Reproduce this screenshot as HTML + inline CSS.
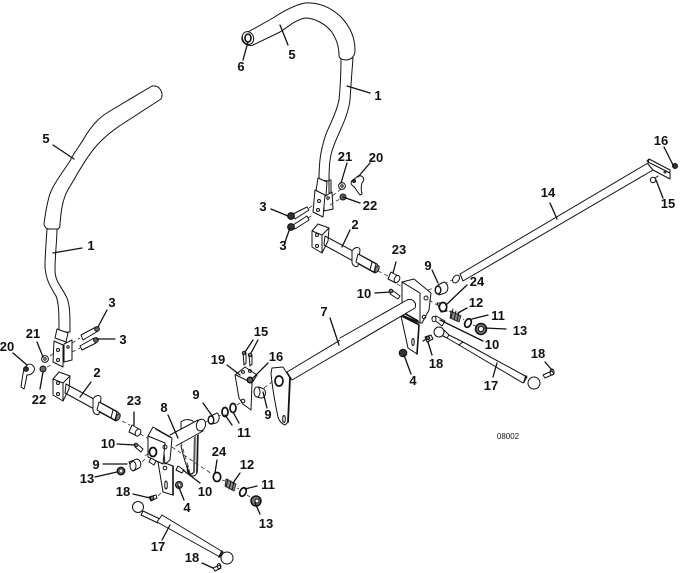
<!DOCTYPE html>
<html><head><meta charset="utf-8"><style>
html,body{margin:0;padding:0;background:#fff}
svg{display:block}
text{font-family:"Liberation Sans",Arial,sans-serif;font-size:13px;font-weight:bold;fill:#111;text-anchor:middle}
.p{fill:#fff;stroke:#111;stroke-width:1;stroke-linejoin:round;stroke-linecap:round}
.l{fill:none;stroke:#111;stroke-width:1;stroke-linecap:round;stroke-linejoin:round}
.k{fill:none;stroke:#111;stroke-width:1.3;stroke-linecap:round}
.d{fill:none;stroke:#333;stroke-width:.8;stroke-dasharray:4 3}
.t{fill:#fff;stroke:#111;stroke-width:1.7}
.n{fill:#333;stroke:#111;stroke-width:1}
.g{fill:#888;stroke:#111;stroke-width:.8}
</style></head><body>
<svg width="680" height="573" viewBox="0 0 680 573" xmlns="http://www.w3.org/2000/svg">
<rect width="680" height="573" fill="#fff"/>

<!-- Left handle -->
<path class="p" d="M47 229C46 245 45 255 45 267C46 280 50 286 56 296C59 303 59 315 59 332L70 332C70 315 70 306 67 298C62 287 55 282 55 270C55 255 57 240 57 229Z"/>
<path class="p" d="M152 86L110 111C98 118 92 126 86 135C80 146 74 152 70 161C60 176 52 186 49 197C46 208 45 216 44 224C45 229 48 229 50 229L58 229C60 228 60 226 60 224C61 212 62 204 65 196C68 188 72 184 76 176C82 166 90 152 100 142C108 134 116 128 124 123L161 99C164 93 160 85 152 86Z"/>

<!-- Right handle -->
<path class="p" d="M341 58C341 75 340 90 339 100C336 115 329 125 325 137C321 150 319 160 319 180L329 181C329 165 330 156 333 148C337 135 348 118 350 100C351 85 352 70 353 58Z"/>
<path class="p" d="M248 32L273 18C285 10 295 5 305 3C318 2 330 7 340 16C350 26 355 38 355 50C355 56 352 59 347 60C343 60 339 59 339 55C339 46 336 38 331 31C325 24 315 18 305 18C295 20 288 27 280 32L253 45C247 47 241 42 242 37C243 33 245 32 248 32Z"/>
<ellipse class="p" cx="248" cy="38" rx="5.500" ry="6.500" transform="rotate(-25 248 38)"/>
<ellipse class="n" style="fill:#fff;stroke-width:1.600" cx="248" cy="38" rx="3" ry="4"/>

<!-- Right clamp bracket -->
<path class="p" d="M318 178L327 182L326 196L316 191Z"/>
<path class="p" d="M324 197L332 192L333 209L324 211Z"/>
<path class="p" d="M315 190L325 195L323 217L313 212Z"/>
<circle class="l" cx="319" cy="201" r="1.500"/><circle class="l" cx="318" cy="210" r="1.500"/><circle class="l" cx="328" cy="198" r="1.200"/>
<path class="p" d="M329 180L331 180L331 193L329 193Z"/>
<path class="d" d="M327 200L345 186M330 205L343 197M309 208L315 204M308 218L314 214"/>
<path class="p" d="M293 214L307 207L309 210L295 219Z"/><path class="p" d="M293 225L307 216L309 220L295 229Z"/>
<circle class="n" cx="291" cy="216" r="3.400"/><circle class="n" cx="291" cy="227" r="3.400"/>
<circle class="p" cx="342" cy="186" r="3.400"/><circle class="l" cx="342" cy="186" r="1.200"/>
<circle class="n" style="fill:#666" cx="343" cy="197" r="3"/>
<path class="p" d="M353 180L358 176C362 175 366 178 362 183C361 186 361 190 362 194L360 195C356 190 355 187 353 186C350 184 351 181 353 180Z"/>
<circle class="n" cx="354" cy="181" r="1.500"/>

<!-- Right part 2 -->
<path class="p" d="M325 236L377 264C379 268 378 271 375 273L324 245Z"/>
<path class="p" d="M312 231L318 224L329 228L322 235L322 253L312 247Z"/>
<path class="l" d="M322 235L312 231M329 228L328 241L322 253"/>
<circle class="l" cx="317" cy="235" r="1.500"/><circle class="l" cx="317" cy="246" r="1.500"/>
<path class="p" d="M352 251C355 246 360 247 360 250L358 266C356 268 352 265 352 262Z"/>
<path class="p" d="M358 254L376 264L374 272L356 262Z"/>
<path class="l" d="M372 262L370 270"/>
<ellipse class="n" style="fill:#888" cx="377" cy="269" rx="1.800" ry="3.600" transform="rotate(25 377 269)"/>
<path class="d" d="M378 271L388 276M397 284L408 290"/>
<!-- Right 23 -->
<path class="p" d="M391 272L398 276L396 283L388 279Z"/><ellipse class="p" cx="397" cy="279" rx="2.600" ry="3.800" transform="rotate(25 397 279)"/>

<!-- Left part 2 -->
<g transform="translate(-259 148)">
<path class="p" d="M325 236L377 264C379 268 378 271 375 273L324 245Z"/>
<path class="p" d="M312 231L318 224L329 228L322 235L322 253L312 247Z"/>
<path class="l" d="M322 235L312 231M329 228L328 241L322 253"/>
<circle class="l" cx="317" cy="235" r="1.500"/><circle class="l" cx="317" cy="246" r="1.500"/>
<path class="p" d="M352 251C355 246 360 247 360 250L358 266C356 268 352 265 352 262Z"/>
<path class="p" d="M358 254L376 264L374 272L356 262Z"/>
<path class="l" d="M372 262L370 270"/>
<ellipse class="n" style="fill:#888" cx="377" cy="269" rx="1.800" ry="3.600" transform="rotate(25 377 269)"/>
</g>
<path class="d" d="M122 421L130 425M140 434L149 439"/>
<path class="p" d="M132 425L139 429L137 436L129 432Z"/><ellipse class="p" cx="138" cy="432.500" rx="2.600" ry="3.800" transform="rotate(25 138 432.500)"/>

<!-- Left clamp bracket -->
<path class="p" d="M57 329L68 333L66 342L55 338Z"/>
<path class="p" d="M54 341L63 345L63 367L53 362Z"/>
<path class="p" d="M64 344L72 340L72 360L64 362Z"/>
<circle class="l" cx="58" cy="350" r="1.500"/><circle class="l" cx="58" cy="360" r="1.500"/><circle class="l" cx="68" cy="347" r="1.200"/>
<path class="d" d="M50 356L54 353M47 367L53 364M72 343L80 338M72 352L80 348"/>
<path class="p" d="M81 335L96 327L98 331L83 340Z"/><path class="p" d="M80 346L94 338L96 343L82 350Z"/>
<circle class="n" style="fill:#666" cx="97" cy="329" r="2.400"/><circle class="n" style="fill:#666" cx="96" cy="340" r="2.400"/>
<circle class="p" cx="45" cy="359" r="3.400"/><circle class="l" cx="45" cy="359" r="1.200"/>
<circle class="n" style="fill:#666" cx="43" cy="369" r="3"/>
<path class="p" d="M27 365C31 362 36 367 34 371C32 375 28 375 27 375C26 380 25 386 24 389L21 387C22 380 23 372 24 369Z"/>
<circle class="n" cx="26" cy="369" r="2.400"/>

<!-- Main shaft 7 -->
<path class="p" d="M287 372L407 300C413 298 417 303 415 308L292 380Z"/>

<!-- Shaft 7 arm -->
<path class="p" d="M272 368L283 367L290 378L288 422L285 425C282 424 279 421 278 417C275 403 272 385 271 373Z"/>
<path class="l" style="stroke-width:1.800" d="M290 378L288 422"/>
<ellipse class="p" style="stroke-width:1.700" cx="279" cy="381" rx="4" ry="5"/>
<ellipse class="l" cx="284" cy="419" rx="1.300" ry="3.500"/>
<path class="p" d="M259 387L264 389C267 393 265 397 262 398C258 398 255 396 254 392Z"/>
<ellipse class="p" cx="257" cy="392" rx="3" ry="5"/>
<path class="d" d="M264 388L272 382"/>

<!-- 19 plate -->
<path class="p" d="M235 375L245 367L257 375L252 383L251 410L243 404L239 398Z"/>
<path class="l" d="M236 375L252 383"/>
<circle class="l" cx="243" cy="401" r="1.800"/>
<circle class="l" cx="243" cy="372" r="1.400"/><circle class="l" cx="250" cy="371" r="1.400"/>
<circle class="n" style="fill:#666;stroke-width:1.500" cx="250" cy="380" r="2.700"/>
<path class="p" d="M243 353L246 353L246 363L244 365Z"/><path class="p" d="M249 355L252 355L252 364L250 366Z"/>
<circle class="l" cx="244" cy="353" r="1.700"/><circle class="l" cx="250" cy="355" r="1.700"/>

<!-- Right bracket assembly -->
<path class="p" d="M401 316L408 348L417 354L419 325Z"/>
<path class="p" d="M402 282L420 293L420 323L402 315Z"/>
<path class="p" d="M402 282L414 279L431 293L429 310L422 323L420 323L420 293Z"/>
<path class="l" style="stroke-width:1.600" d="M404 316L418 324M404 313L418 321"/>
<path class="l" style="stroke-width:1.600" d="M419 325L417 354"/>
<circle class="l" cx="426" cy="298" r="2"/><circle class="l" cx="424" cy="317" r="1.700"/>
<ellipse class="l" cx="413" cy="342" rx="1.200" ry="3.500"/>
<path class="p" d="M340 338L407 300C413 298 417 303 415 308L340 352Z" style="stroke:none"/>
<path class="l" d="M340 338L407 300C413 298 417 303 415 308L340 352"/>
<circle class="n" cx="403" cy="353" r="3.800"/>
<path class="p" d="M392 290L400 296L398 299L390 294Z"/><circle class="n" style="fill:#888" cx="391" cy="291" r="1.800"/>

<!-- Shaft 14 -->
<path class="p" d="M460 274L648 163L653 170L463 281Z"/>
<ellipse class="p" cx="456" cy="279" rx="3" ry="4.300" transform="rotate(35 456 279)"/>
<path class="p" d="M649 159L670 170L670 179L653 170L648 164Z"/>
<path class="l" d="M649 159L647 161L650 163L670 173"/>
<circle class="l" cx="665" cy="172" r="1"/>
<circle class="n" cx="675" cy="166" r="2.500"/>
<circle class="p" cx="653" cy="180" r="2.700"/><path class="l" d="M655 178L658 176"/>
<path class="d" d="M444 284L452 280"/>

<!-- Right hardware -->
<path class="p" d="M438 285L444 282C449 284 449 291 445 293L439 295Z"/>
<ellipse class="p" style="stroke-width:1.400" cx="438" cy="290" rx="2.800" ry="4"/>
<path class="d" d="M428 290L434 288M429 300L437 305M449 311L452 313M463 319L464 320M473 325L476 326"/>
<path class="p" d="M437 303L444 303L447 311L441 312Z"/><ellipse class="t" cx="443" cy="307" rx="3.700" ry="4.500"/>
<path class="g" d="M451 311L461 316L459 322L450 318Z"/>
<path class="l" d="M453 309L451 318M456 311L454 320M459 312L457 321"/>
<ellipse class="t" cx="468" cy="323" rx="3" ry="4.500" transform="rotate(25 468 323)"/>
<circle class="n" style="fill:#777;stroke-width:1.500" cx="481" cy="329" r="5.500"/>
<circle cx="481" cy="329" r="2.600" fill="#fff" stroke="#111"/>
<path class="p" d="M432 318L436 316L445 321L442 326Z"/><ellipse class="p" cx="434" cy="319" rx="2" ry="2.800"/>
<path class="p" d="M449 335L463 342L459 345L447 338Z"/>
<path class="p" d="M463 342L527 377L523 383L459 345Z"/>
<circle class="p" cx="439" cy="332" r="5"/>
<path class="l" d="M444 330L449 335M443 336L447 338"/>
<circle class="p" cx="534" cy="383" r="6"/>
<path class="l" style="stroke-width:1.500" d="M526 376L524 382"/>
<path class="p" d="M425 337L431 335L433 339L427 342Z"/><path class="k" d="M423 341L428 338"/>
<circle class="n" style="fill:#666" cx="428" cy="338" r="1.800"/>
<path class="p" d="M543 375L552 371L554 374L545 378Z"/><ellipse class="l" cx="552" cy="372" rx="2" ry="3"/>

<!-- Left bracket 8 -->
<path class="p" d="M181 422C184 419 190 419 193 421L198 430L197 472C196 476 193 477 190 475C187 468 183 455 181 446Z"/>
<path class="l" style="stroke-width:2" stroke-opacity=".7" d="M198 430L197 472M195 430L194 472"/>
<path class="p" style="stroke:none" d="M168 437L198 419L204 431L178 447Z"/>
<path class="l" d="M170 435L198 420M176 446L203 431"/>
<ellipse class="p" cx="201" cy="425" rx="4.500" ry="6" transform="rotate(15 201 425)"/>
<path class="p" d="M158 462L163 492L173 495L173 466L165 463Z"/>
<path class="p" d="M153 427L172 438L170 460L165 464L163 443L148 436Z"/>
<path class="p" d="M148 436L165 443L163 464L148 457Z"/>
<path class="l" style="stroke-width:1.500" d="M156 429L170 437"/>
<path class="l" style="stroke-width:1.600" d="M173 466L173 495"/>
<ellipse class="p" style="stroke-width:1.800" cx="153" cy="452" rx="3.500" ry="4.500"/>
<circle class="l" cx="165" cy="447" r="2"/><circle class="l" cx="165" cy="468" r="1.800"/>
<ellipse class="l" cx="166" cy="485" rx="1.300" ry="4"/>
<path class="d" d="M172 447L212 474M181 442L190 473M145 456L150 452"/>
<path class="l" style="stroke-width:1.400" d="M188 466C186 472 190 476 193 473"/>
<path class="p" d="M178 466L184 470L182 473L176 470Z"/>
<circle class="n" style="fill:#666" cx="179" cy="485" r="3.500"/>
<circle cx="179" cy="485" r="1.300" fill="#fff"/>
<path class="p" d="M151 458L156 461L154 465L149 462Z"/>

<!-- Left hardware -->
<path class="p" d="M137 444L143 449L141 452L135 447Z"/><circle class="n" style="fill:#888" cx="136" cy="445" r="1.800"/>
<path class="p" d="M129 462L137 459C141 460 142 466 139 468L133 471Z"/>
<ellipse class="p" cx="133" cy="466" rx="3" ry="4.500"/>
<circle class="n" style="fill:#666;stroke-width:1.500" cx="121" cy="471" r="3.600"/><circle cx="121" cy="471" r="1.200" fill="#fff"/>
<path class="d" d="M142 462L146 458M206 422L210 420M217 417L221 415"/>
<path class="p" d="M209 417L217 413C220 415 220 421 216 423L212 424Z"/>
<ellipse class="p" style="stroke-width:1.400" cx="211" cy="420" rx="2.800" ry="4"/>
<ellipse class="t" cx="225" cy="412" rx="3" ry="4.500"/>
<ellipse class="t" cx="233" cy="408" rx="3" ry="4.500"/>
<path class="d" d="M237 405L243 401"/>
<ellipse class="t" cx="217" cy="477" rx="3.700" ry="4.500"/>
<path class="d" d="M222 480L225 481M237 488L239 489M247 495L250 497"/>
<path class="g" d="M226 479L236 484L234 491L225 486Z"/>
<path class="l" d="M228 479L226 487M231 481L229 489M234 482L232 490"/>
<ellipse class="t" cx="243" cy="492" rx="3" ry="4.500" transform="rotate(25 243 492)"/>
<circle class="n" style="fill:#777;stroke-width:1.500" cx="256" cy="501" r="5"/><circle cx="257" cy="501" r="2" fill="#fff" stroke="#111"/>

<!-- Left 17 -->
<path class="p" d="M143 511L162 520L158 523L141 515Z"/>
<path class="p" d="M162 515L223 552L220 557L157 522Z"/>
<circle class="p" cx="138" cy="507" r="5.500"/>
<circle class="p" cx="227" cy="558" r="6"/>
<path class="l" style="stroke-width:1.500" d="M222 551L219 557"/>
<path class="p" d="M149 497L156 495L157 498L151 501Z"/><circle class="n" style="fill:#777" cx="152" cy="498" r="1.800"/>
<path class="p" d="M213 568L220 565L221 568L215 571Z"/><ellipse class="l" cx="219" cy="566" rx="1.800" ry="2.500"/>
<path class="d" d="M158 496L163 491"/>

<!-- Leader lines -->
<g class="k">
<path d="M280 25L288 45M248 42L243 60M347 86L370 93M347 163L341 183M370 163L358 177M343 197L360 203M271 209L288 216M290 228L285 242M350 230L342 247M396 262L393 273M432 270L438 283"/>
<path d="M467 285L446 305M375 293L390 292M467 308L458 313M488 315L472 319M506 329L485 328M483 341L440 320M432 355L428 342M411 374L404 355M493 377L497 363M545 362L552 370M330 318L339 345"/>
<path d="M550 203L557 219M664 147L673 165M663 198L656 180"/>
<path d="M53 145L74 159M82 248L53 253M37 342L43 357M13 353L27 365M40 389L43 372M107 310L98 327M115 339L97 339M91 382L80 397M134 412L134 425M168 415L178 438M203 403L213 417M117 444L135 445M103 464L127 464M95 477L117 472M217 460L215 473M200 483L183 470M184 500L178 485M133 494L150 498M162 540L170 525M202 563L213 568"/>
<path d="M227 365L240 375M268 363L253 378M253 340L245 352M258 340L251 353M267 408L263 392M239 423L233 412M232 425L225 415M240 473L233 483M257 486L245 489M260 514L255 503"/>
</g>

<!-- Labels -->
<g>
<text x="292" y="59">5</text><text x="241" y="71">6</text><text x="378" y="100">1</text>
<text x="345" y="161">21</text><text x="376" y="162">20</text><text x="370" y="210">22</text>
<text x="263" y="211">3</text><text x="283" y="250">3</text><text x="355" y="229">2</text>
<text x="399" y="254">23</text><text x="428" y="270">9</text><text x="477" y="286">24</text>
<text x="364" y="298">10</text><text x="476" y="307">12</text><text x="498" y="320">11</text>
<text x="520" y="335">13</text><text x="492" y="349">10</text><text x="436" y="368">18</text>
<text x="413" y="385">4</text><text x="491" y="390">17</text><text x="538" y="358">18</text>
<text x="324" y="316">7</text><text x="261" y="336">15</text><text x="276" y="361">16</text>
<text x="218" y="364">19</text><text x="548" y="197">14</text><text x="661" y="145">16</text>
<text x="668" y="208">15</text><text x="46" y="143">5</text><text x="91" y="250">1</text>
<text x="112" y="307">3</text><text x="123" y="344">3</text><text x="33" y="338">21</text>
<text x="7" y="351">20</text><text x="39" y="404">22</text><text x="97" y="377">2</text>
<text x="134" y="405">23</text><text x="164" y="412">8</text><text x="196" y="399">9</text>
<text x="268" y="419">9</text><text x="244" y="437">11</text><text x="108" y="448">10</text>
<text x="96" y="469">9</text><text x="87" y="483">13</text><text x="219" y="456">24</text>
<text x="205" y="496">10</text><text x="187" y="512">4</text><text x="247" y="469">12</text>
<text x="268" y="489">11</text><text x="266" y="528">13</text><text x="123" y="496">18</text>
<text x="158" y="551">17</text><text x="192" y="562">18</text>
<text x="508" y="439" style="font-size:8px;font-weight:normal">08002</text>
</g>
</svg>
</body></html>
